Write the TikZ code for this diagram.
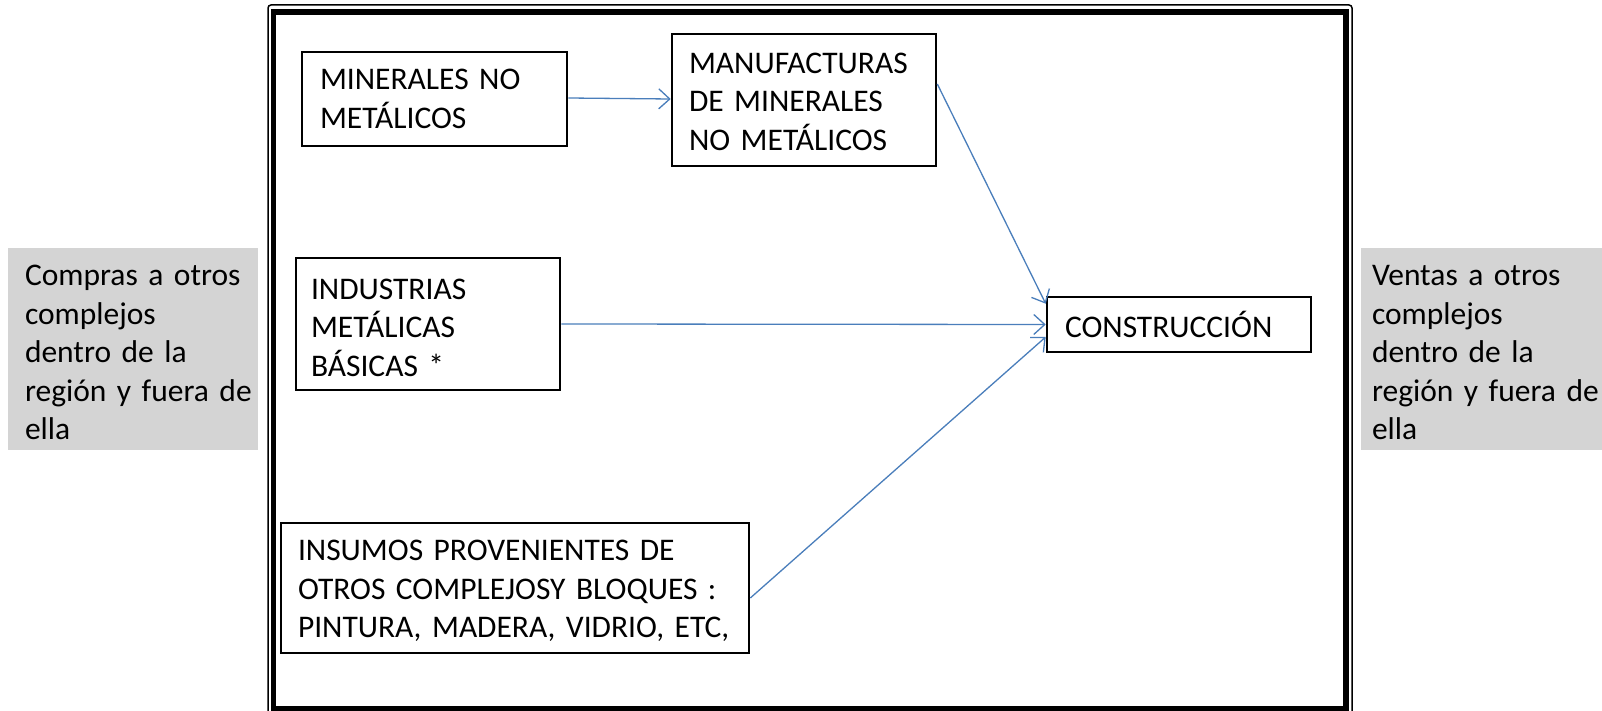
\documentclass[tikz,border=0pt]{standalone}
\usepackage{fontspec}
\setmainfont{Carlito}
\usetikzlibrary{arrows.meta,calc}
\definecolor{arrowblue}{HTML}{4A7EBB}
\definecolor{panelgray}{HTML}{D4D4D4}
\newcommand{\oneline}[1]{\mbox{#1}}
\newcommand{\topstrut}[1]{\rule{0pt}{#1pt}}
\newcommand{\diagfont}{\fontsize{31.5}{38.5}\selectfont}
\tikzset{
  x=1pt,y=-1pt,
  flowbox/.style={draw=black, line width=2.6pt, fill=white, inner sep=0pt,
    align=left, font=\diagfont},
  sidebox/.style={fill=panelgray, inner sep=0pt, align=left,
    font=\diagfont},
  flow/.style={draw=arrowblue, line width=1.3pt, -{Straight Barb[length=11pt,width=20pt,line width=1.3pt]}}
}
\begin{document}
\begin{tikzpicture}
\clip (0,0) rectangle (1602,711);
\fill[white] (0,0) rectangle (1602,711);
% outer frame
\draw[line width=1.5pt, rounded corners=3pt] (268,5) rectangle (1352,730);
\draw[line width=5.5pt] (273.5,12) rectangle (1346,709);
% side panels
\node[sidebox, minimum width=250, minimum height=202, text width=216] (buy) at (133,349)
  {\topstrut{28}\oneline{Compras a otros}\\\oneline{complejos}\\\oneline{dentro de la}\\\oneline{región y fuera de}\\\oneline{ella}};
\node[sidebox, minimum width=241, minimum height=202, text width=219] (sell) at (1481.5,349)
  {\topstrut{28}\oneline{Ventas a otros}\\\oneline{complejos}\\\oneline{dentro de la}\\\oneline{región y fuera de}\\\oneline{ella}};
% boxes
\node[flowbox, minimum width=265, minimum height=94, text width=229] (min) at (434.5,99)
  {\oneline{MINERALES NO}\\\oneline{METÁLICOS}};
\node[flowbox, minimum width=264, minimum height=132, text width=230] (man) at (804,100)
  {\topstrut{23.5}\oneline{MANUFACTURAS}\\\oneline{DE MINERALES}\\\oneline{NO METÁLICOS}};
\node[flowbox, minimum width=264, minimum height=132, text width=234] (ind) at (428,324)
  {\topstrut{28}\oneline{INDUSTRIAS}\\\oneline{METÁLICAS}\\\oneline{BÁSICAS *}};
\node[flowbox, minimum width=264, minimum height=55, text width=228] (con) at (1179,324.5)
  {\oneline{CONSTRUCCIÓN}};
\node[flowbox, minimum width=468, minimum height=130, text width=434] (ins) at (515,588)
  {\topstrut{27}\oneline{INSUMOS PROVENIENTES DE}\\\oneline{OTROS COMPLEJOSY BLOQUES :}\\\oneline{PINTURA, MADERA, VIDRIO, ETC,}};
% connectors
\draw[flow] ($(min.east)+(0,-1)$) -- ($(man.west)+(0,-1)$);
\draw[flow] ($(man.east)+(0,-16)$) -- ($(con.north west)+(0,8)$);
\draw[flow] (ind.east) -- (con.west);
\draw[flow] ($(ins.east)+(0,10)$) -- ($(con.west)+(0,12.5)$);
\end{tikzpicture}
\end{document}
